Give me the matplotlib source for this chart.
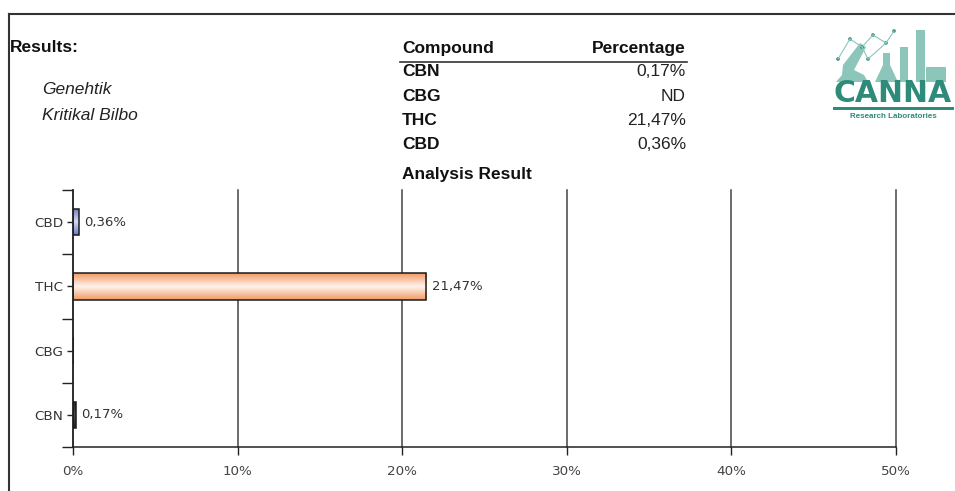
import numpy as np
import matplotlib
matplotlib.use("Agg")
import matplotlib.pyplot as plt
from matplotlib.lines import Line2D
from matplotlib.patches import Rectangle, Circle, Polygon
from matplotlib.colors import LinearSegmentedColormap
from matplotlib.ticker import FixedLocator

plt.rcParams['font.family'] = ['Liberation Sans', 'DejaVu Sans']

# ---- data ----
compounds = ["CBN", "CBG", "THC", "CBD"]
values = [0.17, 0.0, 21.47, 0.36]          # percent; CBG = ND
value_labels = ["0,17%", "", "21,47%", "0,36%"]
table_values = ["0,17%", "ND", "21,47%", "0,36%"]
x_ticks = [0, 10, 20, 30, 40, 50]
x_tick_labels = ["0%", "10%", "20%", "30%", "40%", "50%"]
strain = ["Genehtik", "Kritikal Bilbo"]

bar_colors = {
    "CBN": ("#202020", "#505050"),
    "CBG": ("#90c090", "#e0f0e0"),
    "THC": ("#f29a66", "#fff3ec"),
    "CBD": ("#6f7cc0", "#d4daf4"),
}

W, H = 955, 491
fig = plt.figure(figsize=(W / 100, H / 100), dpi=100)
fig.patch.set_facecolor("white")

def fx(px):
    return px / W

def fy(py):
    return 1 - py / H

chart_font = "DejaVu Sans"
ax = fig.add_axes([fx(73), fy(447), fx(896) - fx(73), fy(190) - fy(447)])
ypos = np.arange(len(compounds))
bars = ax.barh(ypos, values, height=0.41, color="none", edgecolor="#1a1a1a",
               linewidth=1.1, zorder=3)

# gradient fills clipped to each bar
for bar, name in zip(bars, compounds):
    edge_c, mid_c = bar_colors[name]
    cmap = LinearSegmentedColormap.from_list("g", [edge_c, mid_c, edge_c])
    x0, y0 = bar.get_x(), bar.get_y()
    w, h = bar.get_width(), bar.get_height()
    if w <= 0:
        continue
    grad = np.linspace(0, 1, 64).reshape(-1, 1)
    im = ax.imshow(grad, cmap=cmap, aspect="auto", extent=[x0, x0 + w, y0, y0 + h],
                   origin="lower", zorder=2, interpolation="bilinear")
    im.set_clip_path(bar)

for y, v, lab in zip(ypos, values, value_labels):
    if lab:
        ax.annotate(lab, xy=(v, y), xytext=(4, 0), textcoords="offset points",
                    ha="left", va="center", fontsize=9.5, color="#333333",
                    zorder=4, family=chart_font)

ax.set_xlim(0, 50)
ax.set_ylim(-0.5, len(compounds) - 0.5)
ax.set_xticks(x_ticks)
ax.set_xticklabels(x_tick_labels, family=chart_font)
ax.set_yticks(ypos)
ax.set_yticklabels(compounds, family=chart_font)
ax.yaxis.set_minor_locator(FixedLocator(np.arange(-0.5, len(compounds), 1.0)))
ax.tick_params(axis="y", which="major", length=4, width=1, color="#222222",
               labelsize=9.7, labelcolor="#333333", pad=3)
ax.tick_params(axis="y", which="minor", length=8, width=1, color="#222222")
ax.tick_params(axis="x", which="major", length=6, width=1, color="#222222",
               labelsize=9.7, labelcolor="#444444", pad=7)

ax.grid(axis="x", color="#444444", linewidth=1.1, zorder=1)
for gl in ax.get_xgridlines():
    gl.set_clip_on(False)
ax.set_axisbelow(True)
for s in ["top", "right"]:
    ax.spines[s].set_visible(False)
for s in ["left", "bottom"]:
    ax.spines[s].set_color("#222222")
    ax.spines[s].set_linewidth(1.1)
ax.set_facecolor("none")

# ---- frame lines ----
fig.add_artist(Line2D([fx(9), 1.0], [fy(14), fy(14)], color="#333333", lw=1.5))
fig.add_artist(Line2D([fx(9), fx(9)], [fy(14), 0.0], color="#333333", lw=1.5))

# ---- header texts ----
FS = 12.5
fig.text(fx(10), fy(48), "Results:", fontsize=FS, fontweight="bold",
         ha="left", va="center", color="#111111")
for i, s in enumerate(strain):
    fig.text(fx(42), fy(90 + 25 * i), s, fontsize=FS, style="italic",
             ha="left", va="center", color="#222222")

# table
fig.text(fx(402), fy(48), "Compound", fontsize=FS, fontweight="bold",
         ha="left", va="center", color="#111111")
fig.text(fx(686), fy(48), "Percentage", fontsize=FS, fontweight="bold",
         ha="right", va="center", color="#111111")
fig.add_artist(Line2D([fx(400), fx(687)], [fy(62), fy(62)], color="#333333", lw=1.2))
for i, (c, v) in enumerate(zip(compounds, table_values)):
    yy = 72 + 24.3 * i
    fig.text(fx(402), fy(yy), c, fontsize=FS, fontweight="bold",
             ha="left", va="center", color="#111111")
    fig.text(fx(686), fy(yy), v, fontsize=FS, ha="right", va="center", color="#222222")
fig.text(fx(402), fy(175), "Analysis Result", fontsize=FS, fontweight="bold",
         ha="left", va="center", color="#111111")

# ---- logo (approximation) ----
teal = "#2e8b7a"
light = "#8cc5ba"
lax = fig.add_axes([fx(828), fy(122), fx(955) - fx(828), fy(25) - fy(122)])
lax.set_xlim(0, 127)
lax.set_ylim(97, 0)
lax.axis("off")
lax.add_patch(Rectangle((88, 5), 9, 52, color=light, lw=0))
lax.add_patch(Rectangle((72, 22), 8, 35, color=light, lw=0))
lax.add_patch(Polygon([[55, 28], [62, 28], [62, 40], [70, 57], [47, 57], [55, 40]],
                      closed=True, color=light, lw=0))
lax.add_patch(Polygon([[15, 40], [32, 18], [38, 22], [26, 45], [36, 50], [40, 57],
                       [8, 57], [14, 50]], closed=True, color=light, lw=0))
lax.add_patch(Rectangle((98, 42), 20, 15, color=light, lw=0))
pts = [(22, 14), (34, 22), (45, 10), (58, 18), (66, 6), (40, 34), (10, 34)]
for (a, b) in [(0, 1), (1, 2), (2, 3), (3, 4), (1, 5), (5, 3), (0, 6)]:
    lax.plot([pts[a][0], pts[b][0]], [pts[a][1], pts[b][1]], color=light, lw=0.8)
for p in pts:
    lax.add_patch(Circle(p, 1.8, color=teal, lw=0))
lax.text(65, 69, "CANNA", fontsize=21.5, fontweight="bold", color=teal,
         ha="center", va="center", family="DejaVu Sans")
lax.add_patch(Rectangle((5, 82), 121, 2.5, color=teal, lw=0))
lax.text(65, 91, "Research Laboratories", fontsize=5.8, fontweight="bold",
         color=teal, ha="center", va="center")

fig.savefig("out.png", dpi=100, facecolor="white")
